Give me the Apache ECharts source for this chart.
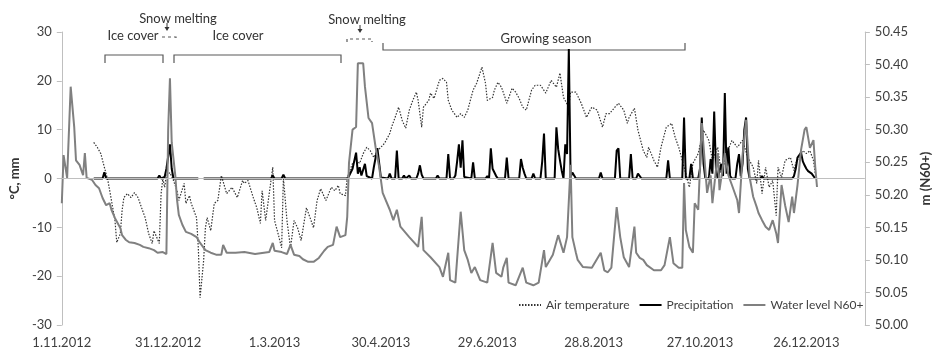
<!DOCTYPE html>
<html>
<head>
    <meta charset="UTF-8">
    <title>Air temperature, precipitation and water level</title>
    <script src="https://cdn.jsdelivr.net/npm/echarts@6/dist/echarts.min.js"></script>
    <style>
        html, body { margin: 0; padding: 0; background: #fff; }
    </style>
</head>
<body>
<div id="main" style="width: 940px;height:349px;"></div>
<script type="text/javascript">
    // x values are days counted from 1.11.2012
    const dayTickLabels = ['1.11.2012', '31.12.2012', '1.3.2013', '30.4.2013', '29.6.2013', '28.8.2013', '27.10.2013', '26.12.2013'];
    const seriesNames = ['Air temperature', 'Precipitation', 'Water level N60+'];

    // °C
    const airTemperature = [
        [18, 7.4], [20, 6.4], [22, 5.1], [24, 2.3], [26, -0.4], [28, -4.5], [30, -8.6], [31, -13.1], [33, -11.3], [34, -6.6],
        [35, -3.9], [37, -3.1], [39, -3.9], [41, -2.9], [43, -3.9], [45, -6.0], [47, -8.0], [49, -11.3], [51, -13.3], [52, -10.7],
        [55, -13.3], [56, -3.1], [57, 0], [58, -1.8], [59, 0.6], [61, 1.2], [63, -0.4], [65, -2.5], [66, -4.5], [69, -1.0],
        [70, -5.1], [72, -3.5], [73, -5.1], [76, -8.0], [77, -14.2], [78, -24.4], [80, -16.8], [81, -10.1], [82, -8.0], [84, -10.7],
        [86, -5.1], [88, -4.5], [90, 0.6], [91, 0.2], [93, -3.1], [96, -1.8], [99, -3.9], [102, -0.4], [103, -1.0], [105, -0.4],
        [108, -3.9], [110, -6.0], [112, -9.2], [113, -2.5], [115, -8.6], [117, -3.1], [119, 2.3], [120, -8.6], [122, -11.3], [124, -14.2],
        [125, 0.2], [127, -8.6], [129, -14.2], [131, -8.6], [133, -10.1], [135, -12.7], [136, -13.1], [138, -6.0], [140, -8.0], [142, -10.1],
        [144, -4.5], [146, -2.1], [149, -4.5], [152, -1.8], [154, -2.5], [156, -1.4], [157, -3.1], [160, -3.5], [161, 0.2], [164, 3.1],
        [166, 3.7], [168, 3.1], [170, 5.1], [172, 6.4], [174, 5.7], [176, 4.3], [178, 5.7], [180, 6.4], [182, 7.2], [185, 9.2],
        [186, 10.5], [188, 12.5], [190, 14.6], [192, 11.9], [194, 10.3], [196, 14.0], [198, 16.0], [200, 17.7], [201, 16.0], [203, 10.5],
        [204, 14.6], [207, 16.0], [208, 17.5], [210, 16.4], [213, 20.1], [215, 20.5], [217, 19.7], [218, 16.0], [220, 14.0], [223, 12.5],
        [225, 13.3], [227, 12.5], [229, 14.0], [230, 15.4], [232, 18.1], [234, 19.5], [237, 22.8], [239, 19.5], [240, 16.0], [243, 16.6],
        [244, 18.1], [246, 19.7], [248, 18.7], [250, 16.6], [251, 15.4], [254, 18.5], [256, 17.7], [258, 16.4], [260, 14.6], [262, 14.0],
        [265, 18.1], [267, 19.1], [270, 19.1], [273, 17.5], [276, 20.1], [277, 19.7], [279, 18.7], [281, 21.6], [283, 16.6], [286, 14.6],
        [287, 17.7], [290, 17.7], [293, 15.4], [296, 12.5], [298, 14.0], [299, 14.6], [302, 14.0], [305, 10.5], [307, 13.3], [309, 13.3],
        [312, 14.6], [314, 15.4], [317, 14.0], [319, 11.3], [320, 12.5], [323, 14.4], [325, 9.9], [328, 5.7], [330, 4.3], [331, 6.4],
        [334, 3.7], [336, 2.3], [338, 6.4], [341, 10.5], [344, 11.3], [346, 8.4], [348, 6.4], [350, 3.7], [352, 1.0], [354, -1.8],
        [356, 3.1], [359, 5.1], [362, 9.9], [365, 7.8], [367, 3.7], [370, 6.4], [372, 1.0], [375, 5.1], [378, 7.8], [381, 6.4],
        [384, 7.8], [387, 4.3], [390, 2.3], [392, -1.0], [393, 3.7], [395, -3.1], [397, 2.3], [399, -1.8], [401, -0.4], [403, -7.6],
        [404, 2.3], [406, 0.2], [408, 3.7], [411, 4.3], [413, 1.6], [414, 3.1], [417, 5.1], [418, 5.7], [420, 5.1], [422, 5.7],
        [424, 3.7], [425, 1.0]
    ];

    // mm, null = missing days
    const precipitation = [
        [18, 0], [23, 0], [24, 1.3], [25, 0], [54, 0], [55, 0.6], [56, 0], [58, 0.3], [59, 2.0], [60, 2.2],
        [61, 7.0], [62, 2.0], [63, 0], [77, 0], [78, null], [79, null], [80, 0], [118, 0], [119, 0.6], [120, 0],
        [124, 0], [125, 0.8], [126, 0], [161, 0], [162, 0.5], [164, 2.0], [166, 5.3], [167, 1.0], [168, 2.3], [169, 0.6],
        [171, 3.0], [172, 0.5], [173, 0.3], [175, 0], [176, 2.3], [178, 6.2], [180, 0.2], [181, 0], [184, 0], [185, 1.0],
        [186, 0], [188, 0], [189, 5.7], [190, 0], [192, 0], [193, 0.6], [194, 0], [195, 0], [196, 0.6], [197, 0],
        [200, 0], [201, 1.0], [202, 2.7], [203, 0.8], [204, 0], [211, 0], [212, 0.6], [213, 0], [217, 0], [218, 5.0],
        [219, 0], [221, 0], [222, 0.6], [223, 3.5], [224, 7.0], [225, 2.2], [226, 7.8], [227, 0.3], [228, 0], [231, 0],
        [232, 3.3], [233, 0], [239, 0], [240, 0.5], [241, 0], [242, 6.2], [243, 2.0], [244, 2.2], [245, 0.5], [246, 0],
        [250, 0], [251, 4.3], [252, 0], [258, 0], [259, 4.0], [260, 2.2], [261, 1.0], [262, 0], [265, 0], [266, 1.0],
        [267, 0], [270, 0], [271, 3.5], [272, 9.2], [273, 0], [278, 0], [279, 10.5], [280, 6.0], [281, 3.7], [282, 1.6],
        [283, 0], [284, 7.0], [285, 5.0], [286, 26.5], [287, 0.3], [288, 1.2], [289, 0.6], [290, 0], [303, 0], [304, 1.2],
        [305, 0], [312, 0], [313, 5.7], [314, 6.2], [315, 0], [320, 0], [321, 5.0], [322, 0], [324, 0], [325, 1.0],
        [326, 0.6], [327, 0], [341, 0], [342, 3.7], [343, 0], [350, 0], [351, 12.5], [352, 0], [354, 0], [355, 3.0],
        [356, 0], [359, 0], [360, 2.0], [361, 12.5], [362, 3.0], [363, 0], [365, 0], [366, 4.0], [367, 1.0], [368, 13.7],
        [369, 2.0], [370, 0], [371, 0], [372, 3.0], [373, 0.5], [374, 17.5], [375, 1.0], [376, 6.4], [377, 0.5], [378, 0],
        [380, 0], [381, 3.0], [382, 5.0], [383, 0.5], [384, 3.0], [385, 10.0], [386, 12.5], [387, 2.0], [388, 0], [394, 0],
        [395, 0.5], [396, 0], [399, 0], [400, 0.3], [401, 0], [412, 0], [413, 0.5], [414, 2.0], [415, 4.3], [417, 5.3],
        [418, 3.5], [419, 2.7], [420, 2.0], [421, 1.5], [423, 1.0], [425, 0]
    ];

    // m (N60+)
    const waterLevel = [
        [0, 50.187], [1, 50.261], [3, 50.226], [5, 50.366], [7, 50.304], [8, 50.253], [10, 50.246], [12, 50.230], [13, 50.264], [14, 50.226],
        [17, 50.223], [19, 50.215], [21, 50.210], [23, 50.195], [25, 50.184], [27, 50.187], [28, 50.177], [30, 50.164], [33, 50.149], [34, 50.138],
        [36, 50.131], [38, 50.127], [41, 50.126], [44, 50.123], [46, 50.120], [49, 50.118], [52, 50.115], [54, 50.111], [55, 50.108], [57, 50.112],
        [59, 50.109], [60, 50.300], [61, 50.379], [62, 50.280], [64, 50.230], [65, 50.192], [66, 50.169], [68, 50.154], [70, 50.143], [73, 50.140],
        [76, 50.135], [78, 50.126], [81, 50.115], [84, 50.111], [87, 50.108], [90, 50.108], [91, 50.123], [93, 50.111], [98, 50.111], [103, 50.112],
        [109, 50.109], [114, 50.111], [117, 50.112], [119, 50.126], [120, 50.114], [124, 50.112], [127, 50.109], [129, 50.123], [131, 50.108], [134, 50.106],
        [136, 50.101], [139, 50.097], [142, 50.097], [145, 50.103], [148, 50.114], [150, 50.120], [153, 50.123], [155, 50.151], [157, 50.135], [160, 50.138],
        [161, 50.166], [162, 50.249], [164, 50.300], [166, 50.304], [167, 50.402], [170, 50.402], [171, 50.366], [173, 50.318], [175, 50.310], [177, 50.273],
        [179, 50.243], [181, 50.203], [185, 50.177], [187, 50.161], [189, 50.177], [191, 50.151], [196, 50.135], [201, 50.120], [203, 50.166], [204, 50.115],
        [208, 50.104], [213, 50.089], [215, 50.074], [218, 50.111], [219, 50.069], [222, 50.065], [225, 50.174], [227, 50.115], [229, 50.100], [231, 50.080],
        [233, 50.089], [236, 50.069], [240, 50.065], [243, 50.126], [245, 50.080], [248, 50.074], [249, 50.088], [251, 50.103], [252, 50.065], [256, 50.061],
        [260, 50.088], [262, 50.065], [266, 50.061], [269, 50.065], [272, 50.115], [273, 50.089], [277, 50.108], [280, 50.138], [283, 50.111], [285, 50.135],
        [287, 50.246], [288, 50.135], [290, 50.111], [291, 50.100], [294, 50.089], [299, 50.088], [304, 50.111], [306, 50.084], [308, 50.081], [310, 50.088],
        [313, 50.181], [315, 50.135], [317, 50.104], [320, 50.089], [323, 50.151], [324, 50.111], [326, 50.103], [328, 50.100], [330, 50.092], [334, 50.084],
        [338, 50.084], [340, 50.092], [343, 50.135], [345, 50.095], [348, 50.088], [350, 50.088], [351, 50.218], [352, 50.146], [354, 50.120], [356, 50.111],
        [357, 50.187], [359, 50.177], [361, 50.310], [364, 50.203], [366, 50.230], [367, 50.187], [370, 50.264], [371, 50.207], [374, 50.264], [376, 50.230],
        [378, 50.215], [381, 50.192], [382, 50.172], [384, 50.261], [386, 50.315], [388, 50.227], [390, 50.197], [392, 50.181], [393, 50.172], [395, 50.161],
        [397, 50.151], [399, 50.146], [401, 50.161], [403, 50.141], [404, 50.126], [406, 50.215], [408, 50.184], [410, 50.158], [412, 50.197], [413, 50.172],
        [415, 50.215], [417, 50.269], [419, 50.300], [420, 50.304], [422, 50.272], [424, 50.284], [425, 50.243], [426, 50.212]
    ];

    const FONT = 'Lato, "Open Sans", sans-serif';
    const TXT = '#404040';
    const AXIS = '#bfbfbf';
    const BRACKET = '#595959';

    var myChart = echarts.init(document.getElementById('main'));

    function bracket(points, dashed) {
        return {
            type: 'polyline',
            silent: true,
            shape: {points: points},
            style: {stroke: BRACKET, lineWidth: 1.2, fill: null, lineDash: dashed ? [3, 3] : null}
        };
    }

    function label(text, x, y) {
        return {
            type: 'text',
            silent: true,
            style: {text: text, x: x, y: y, fill: '#333', font: '13px ' + FONT, align: 'center', verticalAlign: 'middle'}
        };
    }

    function arrow(x, y) {
        return [
            {type: 'line', silent: true, shape: {x1: x, y1: y - 5, x2: x, y2: y}, style: {stroke: '#333', lineWidth: 1}},
            {type: 'polygon', silent: true, shape: {points: [[x - 2.5, y - 1], [x + 2.5, y - 1], [x, y + 3]]}, style: {fill: '#333'}}
        ];
    }

    // seasons marked above the plot
    let annotations = [
        label('Snow melting', 178, 19),
        ...arrow(167, 28),
        bracket([[162, 37], [176, 37], [176, 40]], true),
        label('Ice cover', 133, 36),
        bracket([[105, 63], [105, 55], [163, 55], [163, 63]], false),
        label('Ice cover', 238, 36),
        bracket([[174, 63], [174, 55], [341, 55], [341, 63]], false),
        label('Snow melting', 367, 20),
        ...arrow(360, 30),
        bracket([[347, 42], [347, 39], [372, 39], [372, 42]], true),
        label('Growing season', 546, 39),
        bracket([[383, 43], [383, 50], [685, 50], [685, 43]], false)
    ];

    let option = {
        animation: false,
        backgroundColor: '#fff',
        textStyle: {fontFamily: FONT},
        grid: {left: 58, right: 61, top: 32, bottom: 24},
        legend: {
            data: seriesNames,
            left: 513,
            top: 294,
            itemWidth: 22,
            itemHeight: 10,
            itemGap: 9,
            // line only, no marker dot
            itemStyle: {opacity: 0},
            textStyle: {color: TXT, fontSize: 12, fontFamily: FONT}
        },
        xAxis: {
            type: 'value',
            min: 0,
            max: 453,
            interval: 60,
            axisLine: {show: false},
            axisTick: {show: false},
            splitLine: {show: false},
            axisLabel: {
                color: TXT,
                fontSize: 13,
                margin: 11,
                showMaxLabel: false,
                formatter: function (v) {
                    return v % 60 === 0 ? (dayTickLabels[v / 60] || '') : '';
                }
            }
        },
        yAxis: [
            {
                type: 'value',
                min: -30,
                max: 30,
                interval: 10,
                name: '°C, mm',
                nameLocation: 'middle',
                nameRotate: 90,
                nameGap: 38,
                nameTextStyle: {color: '#333', fontSize: 13, fontWeight: 'bold'},
                axisLine: {show: true, lineStyle: {color: AXIS}},
                axisTick: {show: true, length: 5, lineStyle: {color: AXIS}},
                splitLine: {show: false},
                axisLabel: {color: TXT, fontSize: 13, margin: 10}
            },
            {
                type: 'value',
                position: 'right',
                min: 50,
                max: 50.45,
                interval: 0.05,
                name: 'm (N60+)',
                nameLocation: 'middle',
                nameRotate: 90,
                nameGap: 50,
                nameTextStyle: {color: '#333', fontSize: 13, fontWeight: 'bold'},
                axisLine: {show: true, lineStyle: {color: AXIS}},
                axisTick: {show: true, length: 5, lineStyle: {color: AXIS}},
                splitLine: {show: false},
                axisLabel: {
                    color: TXT, fontSize: 13, margin: 10,
                    formatter: function (v) { return v.toFixed(2); }
                }
            }
        ],
        series: [
            {
                name: seriesNames[0],
                type: 'line',
                yAxisIndex: 0,
                symbol: 'none',
                data: airTemperature,
                lineStyle: {color: '#333', width: 1.2, type: [1.5, 1.5]},
                itemStyle: {color: '#333'},
                markLine: {
                    silent: true,
                    symbol: 'none',
                    label: {show: false},
                    lineStyle: {color: AXIS, width: 1, type: 'solid'},
                    data: [{yAxis: 0}]
                }
            },
            {
                name: seriesNames[1],
                type: 'line',
                yAxisIndex: 0,
                symbol: 'none',
                connectNulls: false,
                data: precipitation,
                lineStyle: {color: '#000', width: 2},
                itemStyle: {color: '#000'}
            },
            {
                name: seriesNames[2],
                type: 'line',
                yAxisIndex: 1,
                symbol: 'none',
                data: waterLevel,
                lineStyle: {color: '#808080', width: 2},
                itemStyle: {color: '#808080'}
            }
        ],
        graphic: annotations
    };

    myChart.setOption(option);
</script>
</body>
</html>
